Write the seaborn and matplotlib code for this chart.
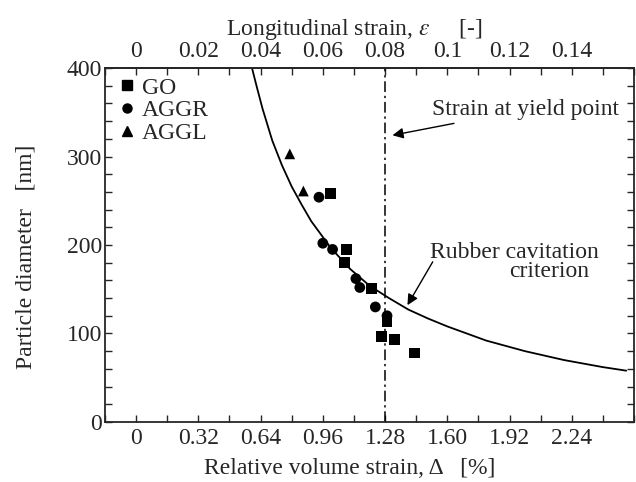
import matplotlib
matplotlib.use("Agg")
import matplotlib.pyplot as plt
from matplotlib.lines import Line2D
from matplotlib.ticker import FixedLocator, MultipleLocator
import pandas as pd
import seaborn as sns

# Measured particle diameters vs. relative volume strain at cavitation
go_delta = [1.00, 1.08, 1.07, 1.21, 1.29, 1.26, 1.33, 1.43]
go_diam = [258, 195, 180, 151, 113, 97, 93, 78]
aggr_delta = [0.94, 0.96, 1.01, 1.13, 1.15, 1.23, 1.29]
aggr_diam = [254, 202, 195, 162, 152, 130, 120]
aggl_delta = [0.79, 0.86]
aggl_diam = [303, 261]

# Rubber cavitation criterion curve
crit_delta = [0.59, 0.62, 0.65, 0.70, 0.75, 0.80, 0.85, 0.90, 1.00, 1.10, 1.20,
              1.30, 1.40, 1.50, 1.60, 1.80, 2.00, 2.20, 2.40, 2.52]
crit_diam = [405, 379, 354, 318, 290, 266, 246, 227, 197, 173, 154,
             140, 127, 117, 108, 92, 80, 70, 62, 58]

# Yield point strain (relative volume strain, %)
yield_delta = 1.28

bottom_ticks = [0, 0.32, 0.64, 0.96, 1.28, 1.60, 1.92, 2.24]
bottom_labels = ["0", "0.32", "0.64", "0.96", "1.28", "1.60", "1.92", "2.24"]
top_ticks = [0, 0.02, 0.04, 0.06, 0.08, 0.10, 0.12, 0.14]
top_labels = ["0", "0.02", "0.04", "0.06", "0.08", "0.1", "0.12", "0.14"]
y_ticks = [0, 100, 200, 300, 400]

series = {"GO": (go_delta, go_diam), "AGGR": (aggr_delta, aggr_diam),
          "AGGL": (aggl_delta, aggl_diam)}
df = pd.concat([pd.DataFrame({"delta": d, "diameter": v, "series": k})
                for k, (d, v) in series.items()], ignore_index=True)
markers = {"GO": "s", "AGGR": "o", "AGGL": "^"}

sns.set_style("ticks")
plt.rcParams["font.family"] = ["Liberation Serif", "DejaVu Serif"]
plt.rcParams["mathtext.fontset"] = "stix"
FS = 17

fig, ax = plt.subplots(figsize=(6.36, 4.82), dpi=100)
fig.subplots_adjust(left=0.1651, right=0.9969, top=0.8589, bottom=0.1245)

sns.lineplot(x=crit_delta, y=crit_diam, ax=ax, color="black", lw=1.3,
             sort=False, estimator=None)
ax.axvline(yield_delta, color="black", lw=1.1,
           linestyle=(0, (7, 2.5, 1.5, 2.5)))
sns.scatterplot(data=df, x="delta", y="diameter", style="series",
                markers=markers, color="black", s=60, linewidth=0,
                legend=False, ax=ax, zorder=3)

ax.set_xlim(-0.16, 2.56)
ax.set_ylim(0, 400)

# bottom axis: relative volume strain
ax.xaxis.set_major_locator(FixedLocator(bottom_ticks))
ax.set_xticklabels(bottom_labels)
ax.xaxis.set_minor_locator(MultipleLocator(0.16))
ax.yaxis.set_major_locator(FixedLocator(y_ticks))
ax.yaxis.set_minor_locator(MultipleLocator(20))
ax.tick_params(which="both", direction="in", length=5, width=1,
               labelsize=FS, right=True)
ax.tick_params(axis="y", pad=2)
ax.tick_params(axis="x", pad=4)

# top axis: longitudinal strain, eps = delta / 16
sec = ax.secondary_xaxis("top", functions=(lambda d: d / 16.0,
                                           lambda e: e * 16.0))
sec.xaxis.set_major_locator(FixedLocator(top_ticks))
sec.set_xticklabels(top_labels)
sec.xaxis.set_minor_locator(MultipleLocator(0.01))
sec.tick_params(which="both", direction="in", length=5, width=1,
                labelsize=FS, pad=4)
sec.set_xlabel(r"Longitudinal strain, $\epsilon$     [-]", fontsize=FS)
sec.xaxis.set_label_coords(0.557, 0.938, transform=fig.transFigure)
sec.xaxis.label.set_va("center")

ax.set_xlabel("Relative volume strain, Δ   [%]", fontsize=FS)
ax.xaxis.set_label_coords(0.550, 0.029, transform=fig.transFigure)
ax.xaxis.label.set_va("center")
ax.set_ylabel("Particle diameter   [nm]", fontsize=FS)
ax.yaxis.set_label_coords(0.041, 0.467, transform=fig.transFigure)
ax.yaxis.label.set_va("center")

for sp in ax.spines.values():
    sp.set_linewidth(1.3)
for sp in sec.spines.values():
    sp.set_linewidth(1.3)

# annotations
ax.annotate("Strain at yield point", xy=(1.318, 324), xytext=(1.52, 353),
            fontsize=FS, va="center", ha="left",
            arrowprops=dict(arrowstyle="-|>", color="black", lw=1,
                            mutation_scale=16, shrinkA=0, shrinkB=0))
ax.annotate("", xy=(1.395, 132), xytext=(1.525, 181),
            arrowprops=dict(arrowstyle="-|>", color="black", lw=1,
                            mutation_scale=16, shrinkA=0, shrinkB=0))
ax.text(1.51, 192, "Rubber cavitation", fontsize=FS, va="center", ha="left")
ax.text(1.92, 170, "criterion", fontsize=FS, va="center", ha="left")

handles = [Line2D([], [], linestyle="none", marker=markers[k], color="black",
                  markersize=6.5 if k != "AGGL" else 7.5) for k in series]
ax.legend(handles, list(series), loc="upper left", frameon=False,
          fontsize=FS, handlelength=0.6, handletextpad=0.35,
          labelspacing=0.05, borderaxespad=0.1,
          bbox_to_anchor=(0.005, 1.008))

fig.savefig("out.png", dpi=100)
